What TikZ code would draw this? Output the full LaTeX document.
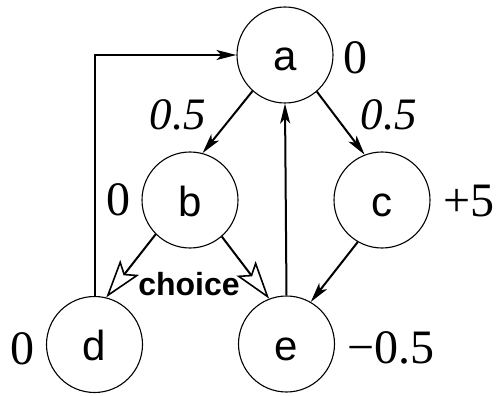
\documentclass[tikz,border=0pt]{standalone}
\usepackage{fontspec}
\setmainfont{Liberation Serif}
\newfontfamily\seriff{Liberation Serif}
\newfontfamily\sansf{Liberation Sans}
\usetikzlibrary{arrows.meta}
\tikzset{
  vertex/.style={circle, draw, line width=1.1pt, minimum size=96pt, inner sep=0pt,
    font=\sansf\fontsize{42}{42}\selectfont, text height=32pt, text depth=0pt},
  val/.style={inner sep=0pt, font=\seriff\fontsize{48}{48}\selectfont},
  prob/.style={inner sep=0pt, font=\seriff\itshape\fontsize{45}{45}\selectfont},
  edge/.style={line width=2pt, -{Stealth[length=20pt,width=10pt,inset=5pt]}},
  choiceedge/.style={line width=2pt, -{Stealth[open,length=38pt,width=24pt,inset=8pt,line width=1.6pt]}},
}
\begin{document}
\begin{tikzpicture}[x=1pt,y=-1pt]
\useasboundingbox (0,0) rectangle (499,396);
\node[vertex] (a) at (285,55) {a};
\node[vertex] (b) at (190,200) {b};
\node[vertex] (c) at (382,200) {c};
\node[vertex] (d) at (94.5,344.5) {d};
\node[vertex] (e) at (286.5,344) {e};

\node[val] (va) at (355,58) {0};
\node[val] (vb) at (118,200) {0};
\node[val] (vc) at (469,201) {+5};
\node[val] (vd) at (22,349) {0};
\node[val] (ve) at (391,348) {−0.5};

\node[prob] (pab) at (178,115) {0.5};
\node[prob] (pac) at (389,115) {0.5};
\node[inner sep=0pt, font=\sansf\bfseries\fontsize{32}{32}\selectfont] (ch) at (189,284) {choice};

\draw[edge] (a.228) -- (b.75);
\draw[edge] (a.311) -- (c.111);
\draw[edge] (c.240) -- (e.60);
\draw[edge] (e.north) -- (a.south);
\draw[edge] (d.north) |- (a.west);
\draw[choiceedge] (b.225) -- (d.76);
\draw[choiceedge] (b.311) -- (e.111);
\end{tikzpicture}
\end{document}
